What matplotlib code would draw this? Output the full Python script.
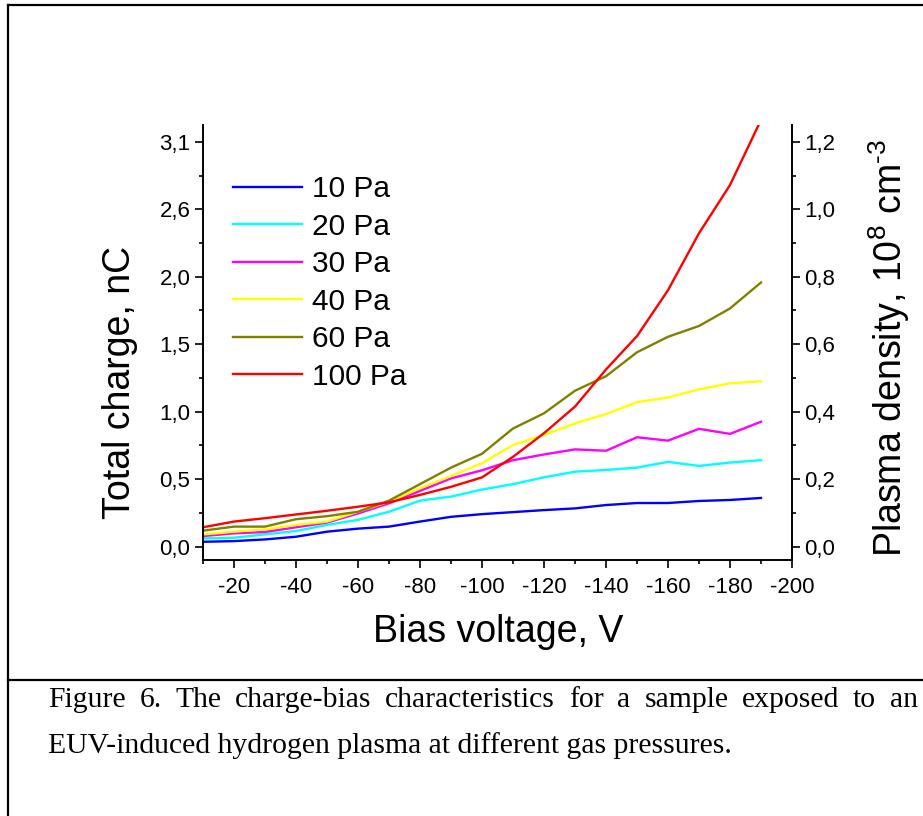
import numpy as np
import matplotlib
matplotlib.use("Agg")
import matplotlib.pyplot as plt
from matplotlib.lines import Line2D

plt.rcParams['font.family'] = ['Liberation Sans', 'DejaVu Sans']
plt.rcParams['axes.unicode_minus'] = False
plt.rcParams['mathtext.fontset'] = 'custom'
plt.rcParams['mathtext.rm'] = 'Liberation Sans'

# bias voltage, V
voltage = [-10, -20, -30, -40, -50, -60, -70, -80, -90, -100,
           -110, -120, -130, -140, -150, -160, -170, -180, -190]

# plasma density, 1e8 cm^-3
p10 = [0.014, 0.016, 0.021, 0.029, 0.044, 0.053, 0.059, 0.074, 0.088, 0.096,
       0.102, 0.108, 0.113, 0.123, 0.129, 0.129, 0.135, 0.138, 0.144]
p20 = [0.024, 0.026, 0.036, 0.046, 0.064, 0.079, 0.103, 0.136, 0.148, 0.169,
       0.185, 0.205, 0.222, 0.227, 0.234, 0.251, 0.239, 0.249, 0.256]
p30 = [0.031, 0.039, 0.043, 0.057, 0.071, 0.098, 0.128, 0.165, 0.202, 0.226,
       0.256, 0.273, 0.288, 0.284, 0.324, 0.314, 0.349, 0.334, 0.370]
p40 = [0.036, 0.044, 0.051, 0.064, 0.074, 0.103, 0.133, 0.173, 0.209, 0.247,
       0.301, 0.331, 0.365, 0.393, 0.428, 0.442, 0.466, 0.484, 0.490]
p60 = [0.047, 0.059, 0.059, 0.081, 0.090, 0.103, 0.136, 0.185, 0.234, 0.275,
       0.350, 0.395, 0.462, 0.505, 0.576, 0.622, 0.654, 0.706, 0.783]
p100 = [0.057, 0.074, 0.084, 0.095, 0.106, 0.118, 0.131, 0.153, 0.177, 0.205,
        0.266, 0.336, 0.415, 0.525, 0.624, 0.760, 0.929, 1.072, 1.265]

series = [p10, p20, p30, p40, p60, p100]
labels = ['10 Pa', '20 Pa', '30 Pa', '40 Pa', '60 Pa', '100 Pa']
colors = ['#0000ff', '#00ffff', '#ff00ff', '#ffff00', '#808000', '#ff0000']

x_ticks = [-20, -40, -60, -80, -100, -120, -140, -160, -180, -200]
y_ticks = [0.0, 0.2, 0.4, 0.6, 0.8, 1.0, 1.2]
left_labels = ['0,0', '0,5', '1,0', '1,5', '2,0', '2,6', '3,1']
right_labels = ['0,0', '0,2', '0,4', '0,6', '0,8', '1,0', '1,2']

caption1 = "Figure 6. The charge-bias characteristics for a sample exposed to an"
caption2 = "EUV-induced hydrogen plasma at different gas pressures."

W, H = 923, 816
fig = plt.figure(figsize=(W / 100, H / 100), dpi=100)

ax = fig.add_axes([203 / W, 1 - 560 / H, (792 - 203) / W, (560 - 125) / H])
ax2 = ax.twinx()

for vals, lab, c in zip(series, labels, colors):
    ax.plot(voltage, vals, color=c, lw=1.7, label=lab)

ax.set_xlim(-10, -200)
ax.set_ylim(-0.04, 1.25)
ax2.set_ylim(-0.04, 1.25)

ax.set_xticks(x_ticks)
ax.set_xticklabels([str(v) for v in x_ticks])
ax.set_xticks(np.arange(-10, -200, -20), minor=True)
ax.set_yticks(y_ticks)
ax.set_yticklabels(left_labels)
ax.set_yticks(np.arange(0.1, 1.25, 0.2), minor=True)
ax2.set_yticks(y_ticks)
ax2.set_yticklabels(right_labels)
ax2.set_yticks(np.arange(0.1, 1.25, 0.2), minor=True)

for a in (ax, ax2):
    a.spines['top'].set_visible(False)
    for s in a.spines.values():
        s.set_linewidth(1.2)
    a.tick_params(which='major', length=6, width=1.2, labelsize=16, pad=3)
    a.tick_params(which='minor', length=3, width=1.2)
ax.tick_params(axis='x', which='major', pad=6)

# axis titles
fig.text(120 / W, 1 - 382 / H, 'Total charge, nC', rotation=90,
         ha='center', va='center', fontsize=27)
fig.text(889 / W, 1 - 348 / H, r'Plasma density, 10$^{8}$ cm$^{\text{-3}}$',
         rotation=90, ha='center', va='center', fontsize=27)
fig.text(498 / W, 1 - 632 / H, 'Bias voltage, V', ha='center', va='center',
         fontsize=27)

ax.legend(loc='upper left', bbox_to_anchor=(0.051, 0.885), frameon=False,
          fontsize=21.5, handlelength=2.3, handletextpad=0.33,
          labelspacing=0.32, borderpad=0, borderaxespad=0)

# frame around figure and caption
lk = dict(transform=fig.transFigure, color='black', lw=1.6)
fig.add_artist(Line2D([8 / W, 8 / W], [0, 1 - 5 / H], **lk))
fig.add_artist(Line2D([8 / W, 1], [1 - 5 / H, 1 - 5 / H], **lk))
fig.add_artist(Line2D([8 / W, 1], [1 - 680 / H, 1 - 680 / H], **lk))

# justified first caption line
r = fig.canvas.get_renderer()
words = caption1.split()
objs = [fig.text(0, 1 - 700 / H, w, family='Liberation Serif', fontsize=21.3,
                 va='center', ha='left') for w in words]
widths = [o.get_window_extent(renderer=r).width for o in objs]
x0, x1 = 48, 918
gap = (x1 - x0 - sum(widths)) / (len(words) - 1)
x = x0
for o, w in zip(objs, widths):
    o.set_x(x / W)
    x += w + gap
fig.text(48 / W, 1 - 746 / H, caption2, family='Liberation Serif', fontsize=21.3,
         va='center', ha='left')

fig.savefig('out.png', dpi=100)
